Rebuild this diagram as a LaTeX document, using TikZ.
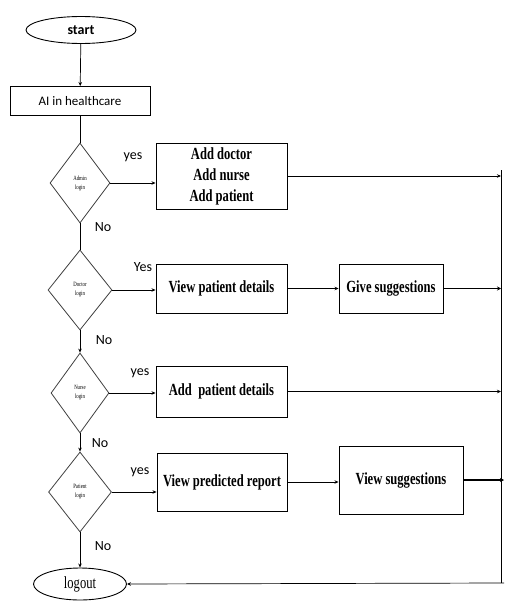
\documentclass[tikz,border=0pt]{standalone}
\usepackage{fontspec}
\setmainfont{Liberation Serif}
\newfontfamily\carfont{Carlito}
\newfontfamily\boxfont[FakeStretch=0.74]{Liberation Serif}
\usetikzlibrary{shapes.geometric,arrows.meta}
\begin{document}
\begin{tikzpicture}[x=1pt,y=-1pt,
  every node/.style={inner sep=0pt},
  term/.style={draw, ellipse, line width=0.9pt},
  procbox/.style={draw, line width=0.9pt, align=center, font=\boxfont\bfseries\fontsize{17}{21}\selectfont},
  decision/.style={draw=black!75, diamond, line width=0.8pt, align=center, font=\boxfont\fontsize{6.5}{9}\selectfont},
  lbl/.style={font=\carfont\fontsize{14}{16}\selectfont},
  flow/.style={line width=0.7pt, -{Stealth[length=4pt,width=3.5pt]}},
  thickflow/.style={line width=1.8pt, -{Stealth[length=4pt,width=4pt]}},
  plain/.style={line width=0.7pt}
]
\useasboundingbox (0,0) rectangle (504,602);

% terminals
\node[term, minimum width=110pt, minimum height=27pt, font=\carfont\bfseries\fontsize{14}{16}\selectfont] (start) at (81,30) {start};
\node[draw, line width=0.9pt, minimum width=140pt, minimum height=29pt, font=\carfont\fontsize{13}{15}\selectfont] (ai) at (80,101) {AI in healthcare};

% decisions
\node[decision, minimum width=60pt, minimum height=80pt] (admin) at (80,183) {Admin\\login};
\node[decision, minimum width=64pt, minimum height=80pt] (doctor) at (80,290) {Doctor\\login};
\node[decision, minimum width=58pt, minimum height=80pt] (nurse) at (80,393) {Nurse\\login};
\node[decision, minimum width=63pt, minimum height=80pt] (patient) at (80,492) {Patient\\login};

\node[term, minimum width=93pt, minimum height=32pt, font=\boxfont\fontsize{17}{19}\selectfont] (logout) at (80,584) {logout};

% process boxes
\node[procbox, minimum width=131pt, minimum height=66pt] (add) at (221.5,176) {Add doctor\\Add nurse\\Add patient};
\node[procbox, minimum width=131pt, minimum height=49pt] (vpd) at (221.5,288.5) {View patient details};
\node[procbox, minimum width=104pt, minimum height=49pt] (gs) at (391,288.5) {Give suggestions};
\node[procbox, minimum width=131pt, minimum height=51pt] (apd) at (221.5,391.5) {Add~ patient details};
\node[procbox, minimum width=130pt, minimum height=58pt] (vpr) at (222,482) {View predicted report};
\node[procbox, minimum width=124pt, minimum height=68pt] (vs) at (401,480) {View suggestions};

% right bus
\coordinate (bustop) at (501,170);
\coordinate (busbot) at (501,583);
\coordinate (edge) at (504,583);
\draw[plain] (bustop) -- (busbot);

% vertical flow
\draw[flow] (start) -- (ai);
\draw[plain] (ai) -- (admin.north);
\draw[plain] (admin.south) -- (doctor.north);
\draw[flow] (doctor.south) -- (nurse.north);
\draw[flow] (nurse.south) -- (patient.north);
\draw[flow] (patient.south) -- (logout.north);

% yes branches
\draw[flow] (admin.east) -- (add.west |- admin.east);
\draw[flow] (doctor.east) -- (vpd.west |- doctor.east);
\draw[flow] (nurse.east) -- (apd.west |- nurse.east);
\draw[flow] (patient.east) -- (vpr.west |- patient.east);

\draw[flow] (vpd.east) -- (gs.west);
\draw[flow] (vpr.east) -- (vpr.east -| vs.west);

% to bus
\draw[flow] (add.east) -- (add.east -| busbot);
\draw[thickflow] (gs.east) -- (gs.east -| busbot);
\draw[flow] (apd.east) -- (apd.east -| busbot);
\draw[thickflow] (vs.east) -- (vs.east -| edge);
\draw[flow] (edge) -- (logout.east);

% labels
\node[lbl] (l1) at (133,157) {yes};
\node[lbl] (l2) at (103,227) {No};
\node[lbl] (l3) at (143,267) {Yes};
\node[lbl] (l4) at (104,340) {No};
\node[lbl] (l5) at (140,373) {yes};
\node[lbl] (l6) at (100,443) {No};
\node[lbl] (l7) at (140,472) {yes};
\node[lbl] (l8) at (103,546) {No};
\end{tikzpicture}
\end{document}
